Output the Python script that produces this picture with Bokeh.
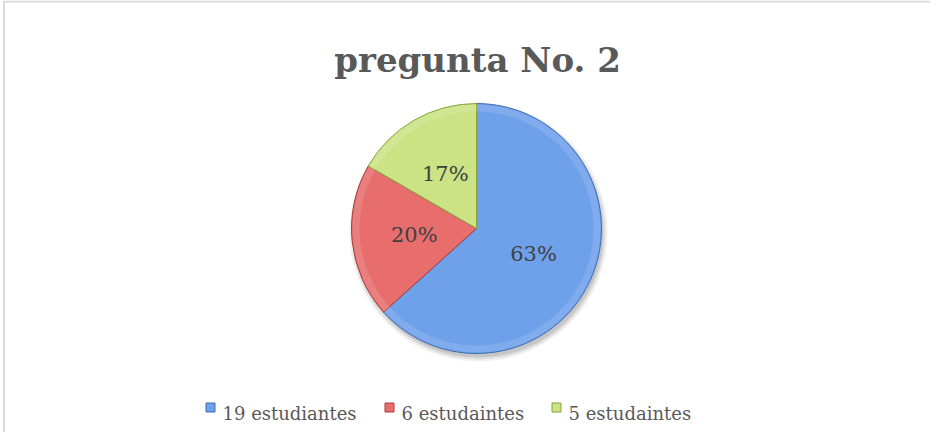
import math
from bokeh.plotting import figure
from bokeh.models import Range1d, ColumnDataSource
from bokeh.core.properties import value
from bokeh.embed import file_html
from bokeh.resources import INLINE

# ---- data ----
categories = ["19 estudiantes", "6 estudaintes", "5 estudaintes"]
counts = [19, 6, 5]
pct_labels = ["63%", "20%", "17%"]
colors = ["#6FA0EA", "#E86E6E", "#CBE384"]
edge_colors = ["#3E6DB3", "#A83A3A", "#86A23E"]
title_text = "pregunta No. 2"

W, H = 930, 432
p = figure(width=W, height=H, output_backend="svg", toolbar_location=None,
           x_range=Range1d(0, W), y_range=Range1d(0, H), min_border=0)
p.axis.visible = False
p.grid.visible = False
p.outline_line_color = None
p.background_fill_color = "white"
p.border_fill_color = "white"

# chart border (decoration)
p.line([3.5, 3.5, 1000], [-20, 431, 431], line_color="#D9D9D9", line_width=2)

cx, cy, R = 476, 204, 125

total = sum(counts)
fracs = [c / total for c in counts]
starts, ends, mids = [], [], []
cum = 0.0
for f in fracs:
    s = math.pi / 2 - 2 * math.pi * cum
    e = math.pi / 2 - 2 * math.pi * (cum + f)
    starts.append(s)
    ends.append(e)
    mids.append((s + e) / 2)
    cum += f

src = ColumnDataSource(dict(cat=categories, start=starts, end=ends, color=colors,
                            edge=edge_colors, lab=pct_labels,
                            lx=[cx + 0.5 * R * math.cos(m) for m in mids],
                            ly=[cy + 0.5 * R * math.sin(m) for m in mids]))

# soft shadow
for i, a in enumerate([0.06, 0.08, 0.10]):
    p.circle(x=cx + 2, y=cy - 4, radius=R + 4 - 2 * i, fill_color="black",
             fill_alpha=a, line_color=None)

p.wedge(x=cx, y=cy, radius=R, start_angle="start", end_angle="end",
        direction="clock", fill_color="color", line_color="edge", line_width=1,
        source=src)
# subtle highlight toward the edge
p.annular_wedge(x=cx, y=cy, inner_radius=R - 8, outer_radius=R - 1,
                start_angle="start", end_angle="end", direction="clock",
                fill_color="white", fill_alpha=0.12, line_color=None, source=src)

p.text(x="lx", y="ly", text="lab", source=src, text_align="center",
       text_baseline="middle", text_font=value("DejaVu Serif"),
       text_font_size="21px", text_color="#404040")

# title
p.text(x=[477], y=[373], text=[title_text], text_align="center",
       text_baseline="alphabetic", text_font=value("DejaVu Serif"),
       text_font_style="bold", text_font_size="34px", text_color="#595959")

# legend
leg_x = [210, 389, 556]
leg_src = ColumnDataSource(dict(x=leg_x, tx=[x + 12 for x in leg_x], y=[25] * 3,
                                ty=[19] * 3, cat=categories, color=colors,
                                edge=edge_colors))
p.scatter(x="x", y="y", marker="square", size=9, fill_color="color",
          line_color="edge", source=leg_src)
p.text(x="tx", y="ty", text="cat", source=leg_src, text_align="left",
       text_baseline="alphabetic", text_font=value("DejaVu Serif"),
       text_font_size="18px", text_color="#595959")

open("out.html", "w").write(file_html(p, INLINE))
